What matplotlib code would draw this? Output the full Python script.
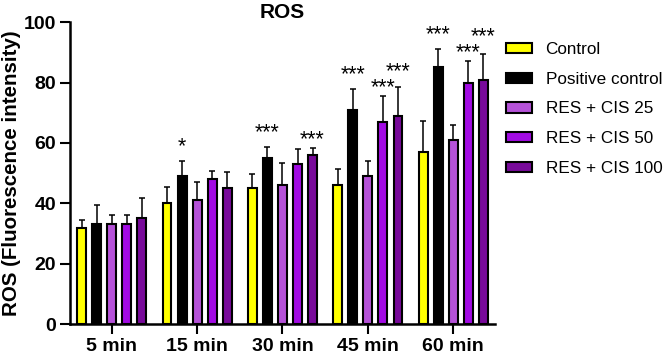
import numpy as np
import matplotlib.pyplot as plt

plt.rcParams['font.family'] = ['Liberation Sans', 'DejaVu Sans']

times = ['5 min', '15 min', '30 min', '45 min', '60 min']
groups = ['Control', 'Positive control', 'RES + CIS 25', 'RES + CIS 50', 'RES + CIS 100']
colors = ['#FFFF00', '#000000', '#B552D8', '#A20BE3', '#780A9A']

means = {
    'Control':          [32, 40, 45, 46, 57],
    'Positive control': [33, 49, 55, 71, 85],
    'RES + CIS 25':     [33, 41, 46, 49, 61],
    'RES + CIS 50':     [33, 48, 53, 67, 80],
    'RES + CIS 100':    [35, 45, 56, 69, 81],
}
sds = {
    'Control':          [2.5, 5.3, 4.6, 5.3, 10.3],
    'Positive control': [6.5, 5.0, 3.6, 6.7, 6.0],
    'RES + CIS 25':     [3.3, 6.2, 7.3, 4.9, 4.8],
    'RES + CIS 50':     [3.3, 2.6, 4.9, 8.5, 7.2],
    'RES + CIS 100':    [6.8, 5.5, 2.3, 9.6, 8.4],
}
# significance marks: (time index, group index, label)
stars = [(1, 1, '*'), (2, 1, '***'), (2, 4, '***'),
         (3, 1, '***'), (3, 3, '***'), (3, 4, '***'),
         (4, 1, '***'), (4, 3, '***'), (4, 4, '***')]

fig = plt.figure(figsize=(6.71, 3.57), dpi=100)
ax = fig.add_axes([0.104, 0.092, 0.634, 0.846])

x = np.arange(len(times))
step = 0.176
width = 0.105
for i, g in enumerate(groups):
    pos = x + (i - 2) * step
    ax.bar(pos, means[g], width, color=colors[i], edgecolor='black',
           linewidth=1.5, label=g, zorder=2)
    ax.errorbar(pos, means[g], yerr=[np.zeros(len(times)), sds[g]], fmt='none',
                ecolor='black', elinewidth=1.1, capsize=2.5, capthick=1.1, zorder=1)

# stars: centred a bit above the error bar, stacked upward when neighbours collide
star_y = {}
for t, gi, lab in stars:
    g = groups[gi]
    top = means[g][t] + sds[g][t]
    yc = top + (7 if gi == 1 else 5)
    if (t, gi - 1) in star_y:
        yc = max(yc, star_y[(t, gi - 1)] + 5.3)
    star_y[(t, gi)] = yc
    ax.text(x[t] + (gi - 2) * step, yc - 4.0, lab, ha='center', va='baseline',
            fontsize=15.5, color='black')

ax.set_xlim(-0.49, 4.49)
ax.set_ylim(0, 100)
ax.set_yticks([0, 20, 40, 60, 80, 100])
ax.set_xticks(x)
ax.set_xticklabels(times, fontweight='bold', fontsize=14)
for lab in ax.get_yticklabels():
    lab.set_fontweight('bold')
    lab.set_fontsize(14)
ax.tick_params(axis='both', width=1.5, length=7, direction='out', pad=3)
for s in ['top', 'right']:
    ax.spines[s].set_visible(False)
for s in ['left', 'bottom']:
    ax.spines[s].set_linewidth(1.8)

ax.set_ylabel('ROS (Fluorescence intensity)', fontweight='bold', fontsize=14.8, labelpad=2)
ax.set_title('ROS', fontweight='bold', fontsize=15, pad=2)

ax.legend(loc='upper left', bbox_to_anchor=(0.99, 0.985), frameon=False,
          fontsize=12.3, handlelength=1.5, handleheight=0.55, labelspacing=0.86,
          handletextpad=0.8)

fig.savefig('out.png', dpi=100)
